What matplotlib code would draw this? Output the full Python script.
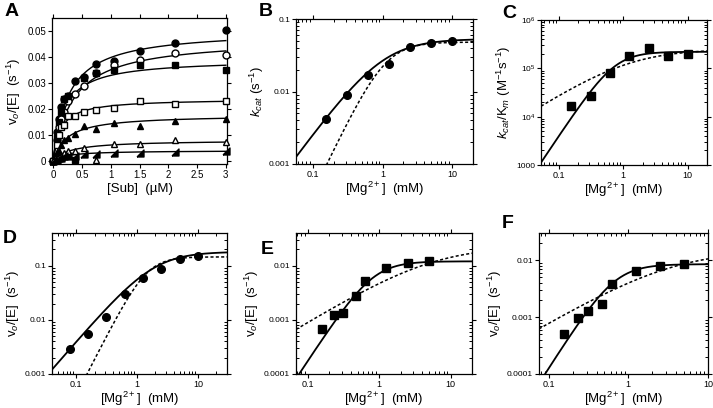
import numpy as np
import matplotlib
matplotlib.use("Agg")
import matplotlib.pyplot as plt
from matplotlib.path import Path
from matplotlib.ticker import LogLocator, NullFormatter, FixedLocator, FixedFormatter

plt.rcParams['font.family'] = ['Liberation Sans', 'DejaVu Sans']
plt.rcParams['mathtext.fontset'] = 'custom'
plt.rcParams['mathtext.rm'] = 'Liberation Sans'
plt.rcParams['mathtext.it'] = 'Liberation Sans:italic'
plt.rcParams['mathtext.bf'] = 'Liberation Sans:bold'

# ---------------- Panel A data ----------------
sub_conc = [0, 0.066, 0.094, 0.133, 0.19, 0.265, 0.375, 0.53, 0.75, 1.06, 1.5, 2.12, 3.0]
a_filled_circle = [0, 0.011, 0.016, 0.021, 0.024, 0.025, 0.031, 0.0325, 0.0375, 0.0385, 0.0425, 0.0455, 0.0505]
a_open_circle = [0, 0.008, 0.013, 0.016, 0.019, 0.023, 0.026, 0.029, 0.034, 0.037, 0.039, 0.0415, 0.041]
a_filled_square = [0, 0.009, 0.015, 0.019, 0.024, 0.025, 0.0005, 0.032, 0.034, 0.035, 0.037, 0.037, 0.035]
a_open_square = [0, 0.006, 0.010, 0.013, 0.014, 0.0175, 0.0175, 0.019, 0.0195, 0.0205, 0.023, 0.022, 0.023]
a_filled_tri = [0, 0.003, 0.004, 0.006, 0.008, 0.009, 0.0105, 0.0135, 0.0125, 0.0145, 0.0135, 0.0155, 0.016]
a_open_tri = [0, 0.001, 0.0015, 0.002, 0.003, 0.004, 0.004, 0.005, 0.0003, 0.0065, 0.0065, 0.008, 0.0072]
a_right_tri = [0, 0.0005, 0.001, 0.0013, 0.0018, 0.002, 0.002, 0.0027, 0.0027, 0.003, 0.0032, 0.0035, 0.0037]
# Michaelis-Menten fit parameters (Vmax, Km) for each series
a_fit_vmax = [0.0506, 0.0474, 0.0393, 0.0240, 0.0178, 0.0080, 0.0040]
a_fit_km = [0.267, 0.347, 0.19, 0.13, 0.243, 0.304, 0.24]

# ---------------- Mg2+ panels ----------------
mg_b = [0.156, 0.3125, 0.625, 1.25, 2.5, 5, 10]
kcat_b = [0.0042, 0.009, 0.017, 0.024, 0.041, 0.046, 0.050]
mg_c = [0.156, 0.3125, 0.625, 1.25, 2.5, 5, 10]
kcatkm_c = [1.7e4, 2.7e4, 8.0e4, 1.8e5, 2.6e5, 1.8e5, 2.0e5]
mg_d = [0.078, 0.156, 0.3125, 0.625, 1.25, 2.5, 5, 10]
v_d = [0.0029, 0.0055, 0.0115, 0.030, 0.058, 0.085, 0.13, 0.15]
mg_e = [0.156, 0.234, 0.3125, 0.47, 0.625, 1.25, 2.5, 5]
v_e = [0.00068, 0.00125, 0.00135, 0.0027, 0.0052, 0.009, 0.011, 0.012]
mg_f = [0.156, 0.234, 0.3125, 0.47, 0.625, 1.25, 2.5, 5]
v_f = [0.0005, 0.00095, 0.0013, 0.0017, 0.0038, 0.0064, 0.0079, 0.0084]

# Hill fit parameters: (Vmax, K, n) for solid and dashed curves
fit_b = [(0.053, 1.0, 1.3), (0.048, 1.087, 2.0)]
fit_c = [(2.2e5, 0.74, 2.0), (2.5e5, 1.2, 0.85)]
fit_d = [(0.18, 1.87, 1.3), (0.145, 1.44, 2.2)]
fit_e = [(0.012, 0.82, 2.0), (0.023, 5.5, 0.8)]
fit_f = [(0.0085, 0.678, 2.2), (0.015, 3.5, 0.82)]


def hill(x, v, k, n):
    return v * x**n / (k**n + x**n)


fig = plt.figure(figsize=(7.13, 4.08), dpi=100)
W, H = 713.0, 408.0


def add_ax(l, r, t, b):
    return fig.add_axes([l / W, 1 - b / H, (r - l) / W, (b - t) / H])


def style(ax):
    for s in ax.spines.values():
        s.set_linewidth(0.9)
    ax.tick_params(which='major', direction='out', length=3, width=0.8,
                   top=True, right=True, labelsize=6.5, pad=1.2)
    ax.tick_params(which='minor', direction='in', length=2.5, width=0.7,
                   top=True, right=True)


# ---------- Panel A ----------
axA = add_ax(52, 227, 18, 164)
style(axA)
rt = Path([(-1, -1), (1, -1), (1, 1), (-1, -1)])
series = [
    (a_filled_circle, dict(marker='o', mfc='black')),
    (a_open_circle, dict(marker='o', mfc='white')),
    (a_filled_square, dict(marker='s', mfc='black')),
    (a_open_square, dict(marker='s', mfc='white')),
    (a_filled_tri, dict(marker='^', mfc='black')),
    (a_open_tri, dict(marker='^', mfc='white')),
    (a_right_tri, dict(marker=rt, mfc='black')),
]
xs = np.linspace(0, 3, 300)
for (vals, kw), vm, km in zip(series, a_fit_vmax, a_fit_km):
    axA.plot(xs, vm * xs / (km + xs), color='black', lw=1.0, zorder=2)
    axA.plot(sub_conc, vals, ls='none', mec='black', mew=1.0, ms=5, zorder=3,
             clip_on=False, **kw)
axA.set_xlim(-0.02, 3.02)
axA.set_ylim(-0.0012, 0.0552)
axA.set_xticks([0, 0.5, 1, 1.5, 2, 2.5, 3])
axA.set_xticklabels(['0', '0.5', '1', '1.5', '2', '2.5', '3'])
axA.set_yticks([0, 0.01, 0.02, 0.03, 0.04, 0.05])
axA.set_yticklabels(['0', '0.01', '0.02', '0.03', '0.04', '0.05'])
axA.tick_params(labelsize=7)
axA.set_xlabel('[Sub]  (\u00b5M)', fontsize=9.5, labelpad=2)
axA.set_ylabel(r'v$_o$/[E]  (s$^{-1}$)', fontsize=9.5, labelpad=3)


def log_panel(ax, x, y, fits, marker, xlim, ylim, yticks, ylabels, xticks, xlabels, ylabel):
    style(ax)
    ax.set_xscale('log')
    ax.set_yscale('log')
    xx = np.logspace(np.log10(xlim[0]), np.log10(xlim[1]), 400)
    (v1, k1, n1), (v2, k2, n2) = fits
    ax.plot(xx, hill(xx, v1, k1, n1), color='black', lw=1.3, zorder=2)
    ax.plot(xx, hill(xx, v2, k2, n2), color='black', lw=1.1, ls=(0, (2, 1.5)), zorder=2)
    ax.plot(x, y, ls='none', marker=marker, mfc='black', mec='black', ms=5.5, zorder=3)
    ax.set_xlim(*xlim)
    ax.set_ylim(*ylim)
    ax.xaxis.set_major_locator(FixedLocator(xticks))
    ax.xaxis.set_major_formatter(FixedFormatter(xlabels))
    ax.yaxis.set_major_locator(FixedLocator(yticks))
    ax.yaxis.set_major_formatter(FixedFormatter(ylabels))
    ax.xaxis.set_minor_locator(LogLocator(base=10, subs=np.arange(2, 10)))
    ax.yaxis.set_minor_locator(LogLocator(base=10, subs=np.arange(2, 10)))
    ax.xaxis.set_minor_formatter(NullFormatter())
    ax.yaxis.set_minor_formatter(NullFormatter())
    ax.tick_params(axis='y', labelsize=6)
    ax.tick_params(axis='x', labelsize=6.5)
    ax.set_xlabel(r'[Mg$^{2+}$]  (mM)', fontsize=9.5, labelpad=0.5)
    ax.set_ylabel(ylabel, fontsize=9.5, labelpad=2)


axB = add_ax(296, 473, 19, 164)
log_panel(axB, mg_b, kcat_b, fit_b, 'o', (0.057, 20), (0.001, 0.1),
          [0.001, 0.01, 0.1], ['0.001', '0.01', '0.1'], [0.1, 1, 10], ['0.1', '1', '10'],
          r'$k_{cat}$ (s$^{-1}$)')

axC = add_ax(541, 707, 20, 165)
log_panel(axC, mg_c, kcatkm_c, fit_c, 's', (0.053, 20), (1000, 1e6),
          [1000, 1e4, 1e5, 1e6], ['1000', r'10$^4$', r'10$^5$', r'10$^6$'], [0.1, 1, 10], ['0.1', '1', '10'],
          r'$k_{cat}$/K$_m$ (M$^{-1}$s$^{-1}$)')

axD = add_ax(52, 227, 233, 374)
log_panel(axD, mg_d, v_d, fit_d, 'o', (0.04, 30), (0.001, 0.4),
          [0.001, 0.01, 0.1], ['0.001', '0.01', '0.1'], [0.1, 1, 10], ['0.1', '1', '10'],
          r'v$_o$/[E]  (s$^{-1}$)')

axE = add_ax(296, 472, 233, 374)
log_panel(axE, mg_e, v_e, fit_e, 's', (0.068, 20), (0.0001, 0.04),
          [0.0001, 0.001, 0.01], ['0.0001', '0.001', '0.01'], [0.1, 1, 10], ['0.1', '1', '10'],
          r'v$_o$/[E]  (s$^{-1}$)')

axF = add_ax(539, 708, 233, 374)
log_panel(axF, mg_f, v_f, fit_f, 's', (0.076, 10), (0.0001, 0.03),
          [0.0001, 0.001, 0.01], ['0.0001', '0.001', '0.01'], [0.1, 1, 10], ['0.1', '1', '10'],
          r'v$_o$/[E]  (s$^{-1}$)')

# panel letters
for txt, x, y in [('A', 5, 3), ('B', 259, 3), ('C', 502, 5), ('D', 3, 230), ('E', 261, 241), ('F', 502, 215)]:
    fig.text(x / W, 1 - y / H, txt, fontsize=14, fontweight='bold', va='top', ha='left')

fig.savefig('out.png', dpi=100)
